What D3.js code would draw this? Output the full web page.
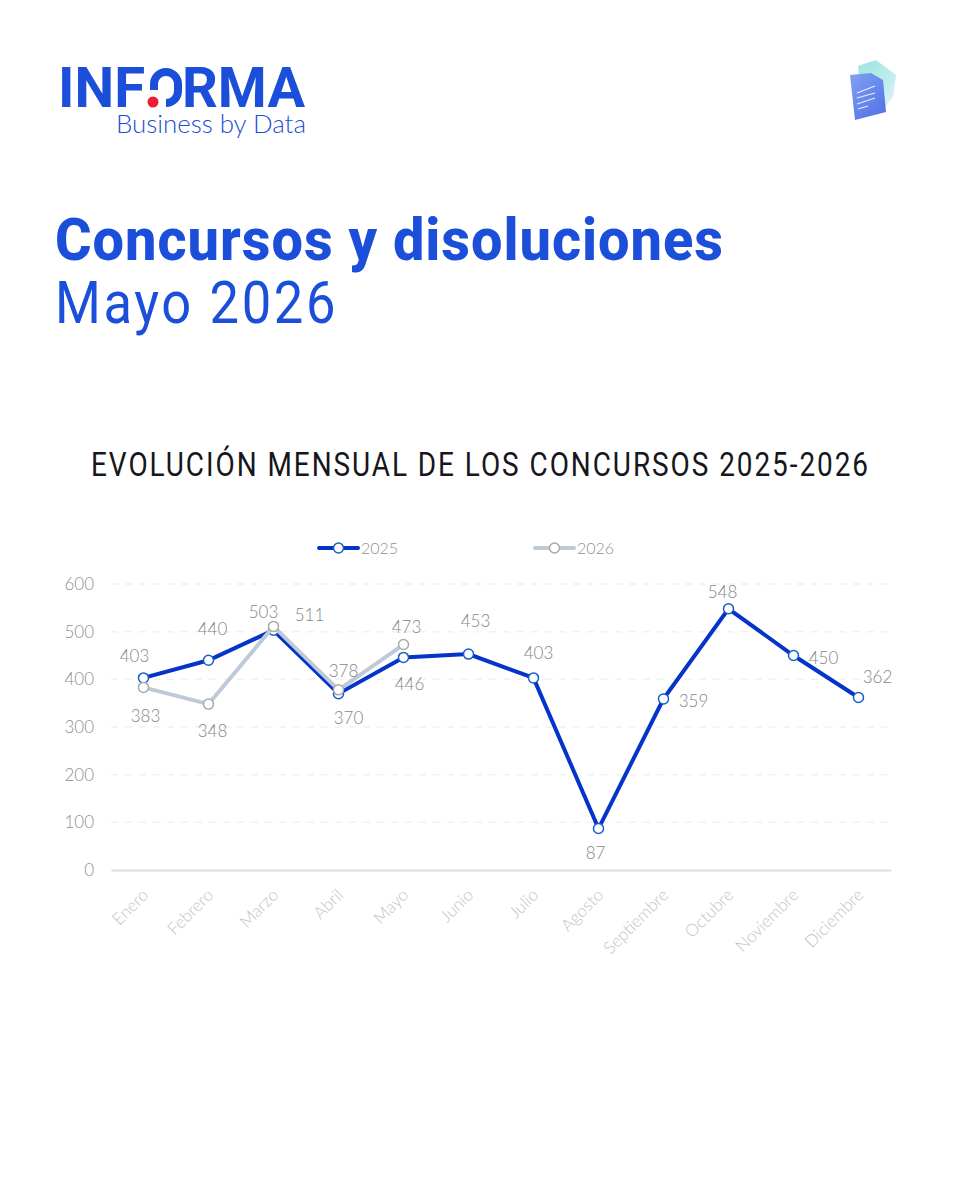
<!DOCTYPE html>
<html>
<head>
<meta charset="utf-8">
<script src="https://cdn.jsdelivr.net/npm/d3@7"></script>
<style>
  html, body { margin: 0; padding: 0; background: #fff; }
  svg { display: block; font-family: "Lato", sans-serif; }
</style>
</head>
<body>
<div id="my_dataviz"></div>
<script>
// chart values
const months = ["Enero", "Febrero", "Marzo", "Abril", "Mayo", "Junio", "Julio", "Agosto", "Septiembre", "Octubre", "Noviembre", "Diciembre"];
const values2025 = [403, 440, 503, 370, 446, 453, 403, 87, 359, 548, 450, 362];
const values2026 = [383, 348, 511, 378, 473];
const yTicks = [0, 100, 200, 300, 400, 500, 600];

// label nudges, one per point
const offsets2025 = [[-9, -16], [4, -25], [-10, -12], [10, 30], [6, 33], [7, -27], [5, -19], [-3, 30], [30, 8], [-6, -11], [30, 8], [19, -14]];
const offsets2026 = [[2, 35], [4, 33], [36, -5], [5, -13], [3, -12]];

const blue = "#0434c8";
const grey = "#bfcad8";
const titleBlue = "#1c4fd9";

const svg = d3.select("#my_dataviz")
  .append("svg")
    .attr("width", 960)
    .attr("height", 1200);

const defs = svg.append("defs");
const docGrad = defs.append("linearGradient").attr("id", "docGrad")
  .attr("x1", 0).attr("y1", 0).attr("x2", 0.6).attr("y2", 1);
docGrad.append("stop").attr("offset", 0).attr("stop-color", "#7d9df2");
docGrad.append("stop").attr("offset", 1).attr("stop-color", "#4f6fe6");
const backGrad = defs.append("linearGradient").attr("id", "backGrad")
  .attr("x1", 0).attr("y1", 0).attr("x2", 0.5).attr("y2", 1);
backGrad.append("stop").attr("offset", 0).attr("stop-color", "#8adfd9");
backGrad.append("stop").attr("offset", 1).attr("stop-color", "#cdeff4");
defs.append("filter").attr("id", "soft")
  .append("feGaussianBlur").attr("stdDeviation", 0.6);

// logo
const logo = svg.append("g");
logo.append("text").attr("x", 58).attr("y", 107)
  .style("font-family", "Roboto").style("font-weight", 700).style("font-size", "55px")
  .attr("fill", titleBlue).attr("textLength", 87).attr("lengthAdjust", "spacingAndGlyphs").text("INF");
logo.append("path")
  .attr("d", "M154 90 V84 A12 12 0 0 1 166 72 A12 12 0 0 1 178 84 V91 A12 12 0 0 1 166 103")
  .attr("fill", "none").attr("stroke", titleBlue).attr("stroke-width", 8);
logo.append("circle").attr("cx", 153).attr("cy", 102).attr("r", 5.5).attr("fill", "#f01c35");
logo.append("text").attr("x", 182).attr("y", 107)
  .style("font-family", "Roboto").style("font-weight", 700).style("font-size", "55px")
  .attr("fill", titleBlue).attr("textLength", 123).attr("lengthAdjust", "spacingAndGlyphs").text("RMA");
logo.append("text").attr("x", 116).attr("y", 133)
  .style("font-family", "Lato").style("font-weight", 300).style("font-size", "25px")
  .attr("fill", titleBlue).attr("textLength", 190).attr("lengthAdjust", "spacingAndGlyphs").text("Business by Data");

// document icon
const icon = svg.append("g").attr("filter", "url(#soft)");
icon.append("path").attr("d", "M858 66 L876 60 L896 75 L893 97 L885 107 L860 90 Z")
  .attr("fill", "url(#backGrad)").attr("opacity", 0.85);
icon.append("path").attr("d", "M850 75 L871 73 L883 80 L886 112 L855 120 Z")
  .attr("fill", "url(#docGrad)").attr("opacity", 0.95);
[[857, 93, 875, 86], [857, 98, 875, 93], [857, 104, 875, 98], [858, 109, 868, 106]].forEach(l => {
  icon.append("line").attr("x1", l[0]).attr("y1", l[1]).attr("x2", l[2]).attr("y2", l[3])
    .attr("stroke", "#e6eefc").attr("stroke-width", 1.2);
});

// titles
svg.append("text").attr("x", 55).attr("y", 260)
  .style("font-family", "Roboto").style("font-weight", 800).style("font-size", "60px")
  .style("letter-spacing", "1px")
  .attr("fill", titleBlue).attr("textLength", 669).attr("lengthAdjust", "spacingAndGlyphs")
  .text("Concursos y disoluciones");
svg.append("text").attr("x", 55).attr("y", 323)
  .style("font-family", "Roboto").style("font-weight", 400).style("font-size", "60px")
  .style("letter-spacing", "3px")
  .attr("fill", titleBlue).attr("textLength", 283).attr("lengthAdjust", "spacingAndGlyphs")
  .text("Mayo 2026");
// squeezed so the glyphs come out narrow with open spacing
svg.append("text").attr("transform", "translate(91, 476) scale(0.847, 1)")
  .style("font-family", "Roboto").style("font-weight", 400).style("font-size", "33px")
  .style("letter-spacing", "2.3px")
  .attr("fill", "#16161c")
  .text("EVOLUCIÓN MENSUAL DE LOS CONCURSOS 2025-2026");

// scales
const x = d3.scaleBand().domain(months).range([111, 891]);
const xPos = d => x(d) + x.bandwidth() / 2;
const y = d3.scaleLinear().domain([0, 600]).range([870, 584]);

// gridlines
svg.append("g").selectAll("line")
  .data(yTicks.filter(d => d > 0))
  .enter().append("line")
    .attr("x1", 111).attr("x2", 891)
    .attr("y1", d => y(d)).attr("y2", d => y(d))
    .attr("stroke", "#f1f1f1").attr("stroke-width", 1.5).attr("stroke-dasharray", "7 7");

// Y axis
const yAxis = svg.append("g")
  .attr("transform", "translate(94, 0)")
  .call(d3.axisLeft(y).tickValues(yTicks).tickSize(0).tickPadding(0));
yAxis.select(".domain").remove();
yAxis.selectAll("text")
  .style("font-family", "Lato").style("font-weight", 300).style("font-size", "17px")
  .attr("fill", "#8f8f8f");

// X axis
const xAxis = svg.append("g")
  .attr("transform", "translate(0, 870)")
  .call(d3.axisBottom(x).tickSize(0).tickPadding(0));
xAxis.select(".domain").attr("stroke", "#dedede").attr("stroke-width", 2);
xAxis.selectAll("text")
  .style("font-family", "Lato").style("font-weight", 300).style("font-size", "17px")
  .attr("fill", "#c4c4c4")
  .style("text-anchor", "end")
  .attr("dy", 0)
  .attr("transform", "translate(6, 26) rotate(-45)");

// lines
const line = d3.line()
  .x((d, i) => xPos(months[i]))
  .y(d => y(d));

function drawSeries(values, colour, ring, offsets) {
  svg.append("path")
    .datum(values)
    .attr("fill", "none")
    .attr("stroke", colour)
    .attr("stroke-width", 4)
    .attr("d", line);

  svg.append("g").selectAll("circle")
    .data(values)
    .enter().append("circle")
      .attr("cx", (d, i) => xPos(months[i]))
      .attr("cy", d => y(d))
      .attr("r", 5)
      .attr("fill", "#fff")
      .attr("stroke", ring)
      .attr("stroke-width", 1.5);

  svg.append("g").selectAll("text")
    .data(values)
    .enter().append("text")
      .attr("x", (d, i) => xPos(months[i]) + offsets[i][0])
      .attr("y", (d, i) => y(d) + offsets[i][1])
      .attr("text-anchor", "middle")
      .style("font-family", "Lato").style("font-weight", 300).style("font-size", "17px")
      .attr("fill", "#858585")
      .text(d => d);
}

drawSeries(values2025, blue, "#1560c8", offsets2025);
drawSeries(values2026, grey, "#a9a9a9", offsets2026);

// legend
const legendItems = [["2025", blue, "#1560c8", 319], ["2026", grey, "#a9a9a9", 535]];
const legend = svg.append("g").selectAll("g")
  .data(legendItems)
  .enter().append("g")
    .attr("transform", d => `translate(${d[3]}, 548)`);
legend.append("line").attr("x1", 0).attr("x2", 39)
  .attr("stroke", d => d[1]).attr("stroke-width", 4).attr("stroke-linecap", "round");
legend.append("circle").attr("cx", 19.5).attr("r", 5).attr("fill", "#fff")
  .attr("stroke", d => d[2]).attr("stroke-width", 1.5);
legend.append("text").attr("x", 42).attr("y", 6)
  .style("font-family", "Lato").style("font-weight", 300).style("font-size", "16px")
  .attr("fill", "#8f8f8f").text(d => d[0]);
</script>
</body>
</html>
